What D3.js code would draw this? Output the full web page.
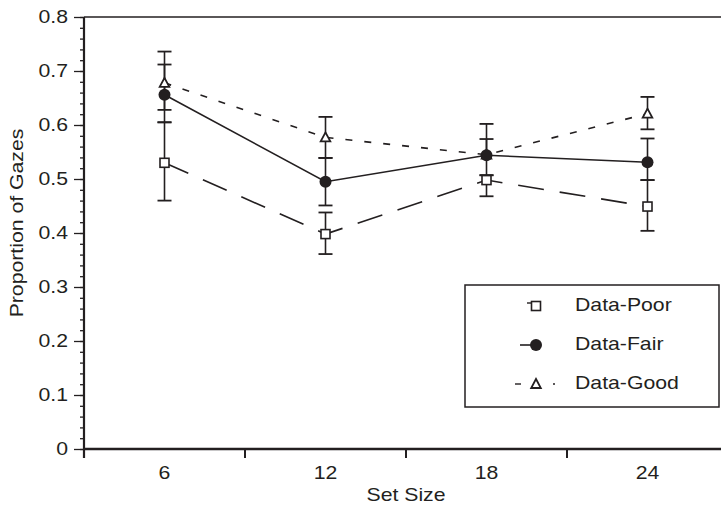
<!DOCTYPE html>
<html>
<head>
<meta charset="utf-8">
<script src="https://cdn.jsdelivr.net/npm/d3@7"></script>
<style>
    body { margin: 0; background: #fff; }
    svg text { font-family: "Liberation Sans", Arial, sans-serif; fill: #231f20; }
</style>
</head>
<body>
<div id="chart"></div>
<script>
/* Data -------------------------------------------------------------------- */

const setSizes = [6, 12, 18, 24];
const yTicks = [0, 0.1, 0.2, 0.3, 0.4, 0.5, 0.6, 0.7, 0.8];

const poorValues = [0.530, 0.398, 0.498, 0.449];
const poorHigh = [0.605, 0.438, 0.507, 0.498];
const poorLow = [0.460, 0.361, 0.468, 0.404];

const fairValues = [0.656, 0.495, 0.544, 0.531];
const fairHigh = [0.712, 0.539, 0.574, 0.575];
const fairLow = [0.605, 0.451, 0.507, 0.498];

const goodValues = [0.678, 0.577, 0.545, 0.621];
const goodHigh = [0.736, 0.615, 0.602, 0.652];
const goodLow = [0.628, 0.539, 0.545, 0.592];

const ink = "#231f20";
const stretchX = 1.18;

const series = [
    {name: "Data-Poor", marker: "square", dash: "26,16",
        values: poorValues, high: poorHigh, low: poorLow},
    {name: "Data-Fair", marker: "circle", dash: null,
        values: fairValues, high: fairHigh, low: fairLow},
    {name: "Data-Good", marker: "triangle", dash: "7,12",
        values: goodValues, high: goodHigh, low: goodLow}
];

/* Draw graphic ------------------------------------------------------------ */

const width = 721, height = 507;
const plot = {left: 84, right: 728, top: 17, bottom: 449};

const svg = d3.select("#chart").append("svg")
    .attr("width", width)
    .attr("height", height);

const x = d3.scaleBand()
    .domain(setSizes)
    .range([plot.left, plot.right])
    .padding(0);

const y = d3.scaleLinear()
    .domain([0, 0.8])
    .range([plot.bottom, plot.top]);

const cx = d => x(d) + x.bandwidth() / 2;

// The reference type is wider than it is tall: stretch text horizontally
function stretch(sel, extra = "") {
    sel.each(function () {
        const t = d3.select(this);
        const tx = +t.attr("x") || 0, ty = +t.attr("y") || 0;
        t.attr("x", 0).attr("y", 0)
            .attr("transform", `translate(${tx},${ty}) ${extra} scale(${stretchX},1)`);
    });
}

// Top frame line
svg.append("line")
    .attr("x1", plot.left).attr("x2", width)
    .attr("y1", y(0.8)).attr("y2", y(0.8))
    .attr("stroke", ink).attr("stroke-width", 1.5);

// Y minor ticks
svg.append("g")
    .attr("transform", `translate(${plot.left},0)`)
    .call(d3.axisLeft(y).tickValues(d3.range(0, 0.801, 0.02)).tickSize(4).tickFormat(""))
    .call(g => g.select(".domain").remove())
    .call(g => g.selectAll("line").attr("stroke", ink).attr("stroke-width", 1.3));

// Y major ticks and labels
svg.append("g")
    .attr("transform", `translate(${plot.left},0)`)
    .call(d3.axisLeft(y).tickValues(yTicks).tickSize(10).tickPadding(6)
        .tickFormat(d => d === 0 ? "0" : d3.format(".1f")(d)))
    .call(g => g.select(".domain").remove())
    .call(g => g.selectAll("line").attr("stroke", ink).attr("stroke-width", 1.3))
    .call(g => g.selectAll("text")
        .style("font-size", "18px").attr("fill", ink)
        .call(stretch));

// Y axis line
svg.append("line")
    .attr("x1", plot.left).attr("x2", plot.left)
    .attr("y1", plot.top).attr("y2", plot.bottom + 9)
    .attr("stroke", ink).attr("stroke-width", 2.2);

// X axis labels
svg.append("g")
    .attr("transform", `translate(0,${plot.bottom})`)
    .call(d3.axisBottom(x).tickSize(0).tickPadding(17))
    .call(g => g.select(".domain").remove())
    .call(g => g.selectAll("text")
        .style("font-size", "18px").attr("fill", ink)
        .call(stretch));

// X boundary ticks
svg.append("g")
    .selectAll("line")
    .data(setSizes.slice(1))
    .join("line")
    .attr("x1", d => x(d)).attr("x2", d => x(d))
    .attr("y1", plot.bottom).attr("y2", plot.bottom + 9)
    .attr("stroke", ink).attr("stroke-width", 2);

// X axis line
svg.append("line")
    .attr("x1", plot.left - 1).attr("x2", width)
    .attr("y1", plot.bottom).attr("y2", plot.bottom)
    .attr("stroke", ink).attr("stroke-width", 2.5);

// Axis titles
svg.append("text")
    .attr("x", 406)
    .attr("y", 501)
    .attr("text-anchor", "middle")
    .style("font-size", "18px")
    .text("Set Size")
    .call(stretch);

svg.append("text")
    .attr("x", 23)
    .attr("y", 223)
    .attr("text-anchor", "middle")
    .style("font-size", "18px")
    .text("Proportion of Gazes")
    .call(stretch, "rotate(-90)");

// Markers
function drawMarker(g, type, px, py) {
    if (type === "square") {
        g.append("rect")
            .attr("x", px - 4.5).attr("y", py - 4.5)
            .attr("width", 9).attr("height", 9)
            .attr("fill", "#fff").attr("stroke", ink).attr("stroke-width", 1.6);
    } else if (type === "circle") {
        g.append("circle")
            .attr("cx", px).attr("cy", py).attr("r", 6)
            .attr("fill", ink);
    } else {
        g.append("path")
            .attr("d", `M${px},${py - 5}L${px + 4.8},${py + 4}L${px - 4.8},${py + 4}Z`)
            .attr("fill", "#fff").attr("stroke", ink).attr("stroke-width", 1.8);
    }
}

const line = d3.line()
    .x(d => cx(d.size))
    .y(d => y(d.value));

// Error bars
series.forEach(s => {
    const g = svg.append("g");
    setSizes.forEach((size, i) => {
        const px = cx(size);
        g.append("line")
            .attr("x1", px).attr("x2", px)
            .attr("y1", y(s.high[i])).attr("y2", y(s.low[i]))
            .attr("stroke", ink).attr("stroke-width", 1.6);
        [s.high[i], s.low[i]].forEach(v => {
            if (v === s.values[i]) return;
            g.append("line")
                .attr("x1", px - 7).attr("x2", px + 7)
                .attr("y1", y(v)).attr("y2", y(v))
                .attr("stroke", ink).attr("stroke-width", 1.8);
        });
    });
});

// Lines and points
series.forEach(s => {
    const pts = setSizes.map((size, i) => ({size: size, value: s.values[i]}));
    svg.append("path")
        .datum(pts)
        .attr("d", line)
        .attr("fill", "none")
        .attr("stroke", ink)
        .attr("stroke-width", 1.6)
        .attr("stroke-dasharray", s.dash);
});

series.slice().reverse().forEach(s => {
    const g = svg.append("g");
    setSizes.forEach((size, i) => drawMarker(g, s.marker, cx(size), y(s.values[i])));
});

/* Legend ------------------------------------------------------------------ */

const legend = svg.append("g");

legend.append("rect")
    .attr("x", 465).attr("y", 285)
    .attr("width", 254).attr("height", 122)
    .attr("fill", "#fff").attr("stroke", ink).attr("stroke-width", 1.5);

series.forEach((s, i) => {
    const ly = 305 + i * 39;
    if (s.dash === null) {
        legend.append("line")
            .attr("x1", 520).attr("x2", 536)
            .attr("y1", ly + 1).attr("y2", ly + 1)
            .attr("stroke", ink).attr("stroke-width", 1.6);
    } else if (s.marker === "square") {
        legend.append("line")
            .attr("x1", 527).attr("x2", 532)
            .attr("y1", ly - 2).attr("y2", ly - 2)
            .attr("stroke", ink).attr("stroke-width", 1.4);
    } else {
        legend.append("line")
            .attr("x1", 515).attr("x2", 521)
            .attr("y1", ly + 1).attr("y2", ly + 1)
            .attr("stroke", ink).attr("stroke-width", 1.4);
        legend.append("line")
            .attr("x1", 553).attr("x2", 555)
            .attr("y1", ly + 1).attr("y2", ly + 1)
            .attr("stroke", ink).attr("stroke-width", 1.4);
    }
    drawMarker(legend, s.marker, 536, ly + 1);
    legend.append("text")
        .attr("x", 575).attr("y", ly + 6)
        .style("font-size", "18px")
        .text(s.name)
        .call(stretch);
});
</script>
</body>
</html>
